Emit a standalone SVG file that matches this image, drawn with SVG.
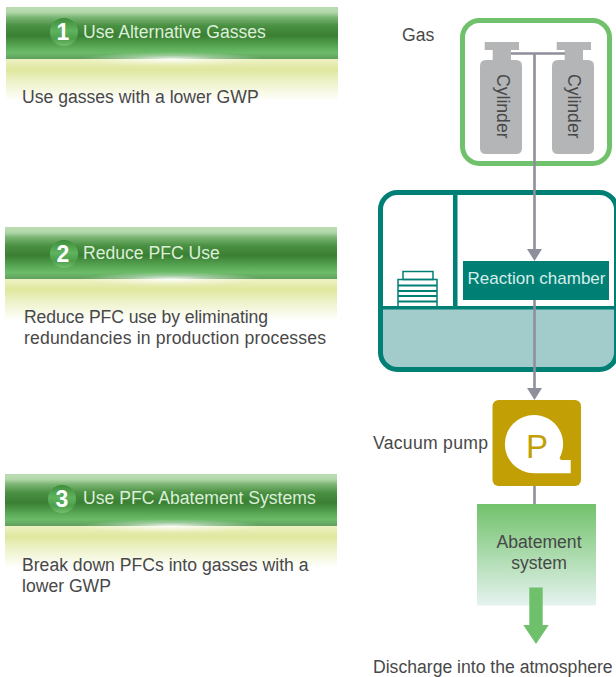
<svg xmlns="http://www.w3.org/2000/svg" xmlns:xlink="http://www.w3.org/1999/xlink" width="616" height="677" viewBox="0 0 616 677">
<style>
text{font-family:"Liberation Sans",Arial,sans-serif;fill:#484848}
.body{font-size:17.6px}
.head{font-size:17.6px;fill:#dcefd8}
.num{font-size:23px;font-weight:700;fill:#fff;text-anchor:middle}
.lab{font-size:17.6px}
.flow{stroke:#8f8f9c;stroke-width:2.6;fill:none}
.head-a{fill:#8f8f9c}
.cyl{fill:#b3b5b7}
.teal{fill:#007f75}
</style>
<defs>
<linearGradient id="bar" x1="0" y1="0" x2="0" y2="1">
<stop offset="0" stop-color="#bcdcb4"/><stop offset=".1" stop-color="#b3d8ab"/><stop offset=".2" stop-color="#7ab573"/><stop offset=".36" stop-color="#4a9042"/><stop offset=".55" stop-color="#3a7f33"/><stop offset=".78" stop-color="#5cac59"/><stop offset=".88" stop-color="#6bbb69"/><stop offset="1" stop-color="#619f5e"/>
</linearGradient>
<linearGradient id="yel" x1="0" y1="0" x2="0" y2="1">
<stop offset="0" stop-color="#eef2c4"/><stop offset=".25" stop-color="#dfe79e"/><stop offset=".5" stop-color="#ecf1c4"/><stop offset="1" stop-color="#fff"/>
</linearGradient>
<radialGradient id="glow"><stop offset="0" stop-color="#fff" stop-opacity=".9"/><stop offset=".5" stop-color="#fff" stop-opacity=".35"/><stop offset="1" stop-color="#fff" stop-opacity="0"/></radialGradient>
<linearGradient id="badge" x1="0" y1="0" x2="0" y2="1"><stop offset="0" stop-color="#3d8c3a"/><stop offset=".45" stop-color="#5fb35e"/><stop offset=".75" stop-color="#4c9f4a"/><stop offset="1" stop-color="#74bf6e"/></linearGradient>
<linearGradient id="abate" x1="0" y1="0" x2="0" y2="1"><stop offset="0" stop-color="#71c26b"/><stop offset="1" stop-color="#e5f3ef"/></linearGradient>
<g id="banner">
<rect x="0" y="0" width="332" height="52" fill="url(#bar)"/>
<rect x="0" y="52" width="332" height="42" fill="url(#yel)"/>
<ellipse cx="166" cy="52" rx="90" ry="7" fill="url(#glow)"/>
</g>
<path id="cylinder" class="cyl" d="M4.700 0H39V8H31V18H36Q42 18 42 24V106Q42 112 36 112H6Q0 112 0 106V24Q0 18 6 18H12.700V8H4.700Z"/>
</defs>

<g id="step1">
<use xlink:href="#banner" href="#banner" x="6" y="7"/>
<circle cx="64" cy="32" r="14" fill="url(#badge)"/>
<text class="num" x="63" y="40">1</text>
<text class="head" x="83" y="38">Use Alternative Gasses</text>
<text class="body" x="22" y="103">Use gasses with a lower GWP</text>
</g>
<g id="step2">
<use xlink:href="#banner" href="#banner" x="5" y="227"/>
<circle cx="64" cy="254" r="14" fill="url(#badge)"/>
<text class="num" x="63" y="262">2</text>
<text class="head" x="83" y="259">Reduce PFC Use</text>
<text class="body" x="24" y="323" textLength="244">Reduce PFC use by eliminating</text>
<text class="body" x="24" y="344" textLength="302">redundancies in production processes</text>
</g>
<g id="step3">
<use xlink:href="#banner" href="#banner" x="5" y="474"/>
<circle cx="62" cy="499" r="14" fill="url(#badge)"/>
<text class="num" x="62" y="507">3</text>
<text class="head" x="83" y="504">Use PFC Abatement Systems</text>
<text class="body" x="22" y="571">Break down PFCs into gasses with a</text>
<text class="body" x="22" y="592">lower GWP</text>
</g>

<g id="gas">
<text class="lab" x="402" y="41">Gas</text>
<rect x="462.500" y="20.500" width="147" height="143" rx="17" fill="#fff" stroke="#70c16b" stroke-width="5"/>
<use xlink:href="#cylinder" href="#cylinder" x="480" y="42"/>
<use xlink:href="#cylinder" href="#cylinder" x="552" y="42"/>
<text class="lab" transform="translate(497 74) rotate(90)">Cylinder</text>
<text class="lab" transform="translate(568 74) rotate(90)">Cylinder</text>
</g>

<g id="chamber">
<rect x="380.500" y="192.500" width="236" height="177" rx="17" fill="#fff"/>
<path d="M380.500 309H616.500V352.500Q616.500 369.500 599.500 369.500H397.500Q380.500 369.500 380.500 352.500Z" fill="#a2cbcb"/>
<rect x="380.500" y="192.500" width="236" height="177" rx="17" fill="none" stroke="#007f75" stroke-width="5"/>
<rect class="teal" x="453" y="193" width="4.500" height="115"/>
<rect class="teal" x="380" y="306" width="236" height="3.500"/>
<g id="wafers" fill="none" stroke="#007f75" stroke-width="1.500">
<rect x="403" y="271.500" width="30" height="8"/>
<path d="M398 307V279.500H437V307"/>
<path d="M398 285.500H437M398 291H437M398 296H437M398 301.500H437" stroke-width="2"/>
</g>
<rect class="teal" x="463" y="261" width="146" height="39"/>
<text x="467.500" y="284" style="font-size:17px;fill:#d8eeea">Reaction chamber</text>
</g>

<g id="connectors">
<path class="flow" d="M511 53.500H565M534.500 53.500V250"/>
<path class="head-a" d="M527 249H542L534.500 261Z"/>
<path class="flow" d="M534.500 300V389"/>
<path class="head-a" d="M527 388H542L534.500 400Z"/>
<path class="flow" d="M534.500 486V504"/>
</g>

<g id="pump">
<rect x="492.500" y="400" width="88.500" height="86" rx="6" fill="#c29f05"/>
<path d="M534 415A29 29 0 0 1 559.500 458L561 460H570.700V473.300H534A29 29 0 0 1 534 415Z" fill="#fff"/>
<text x="526" y="458" style="font-size:33px;fill:#c29f05">P</text>
<text class="lab" x="373" y="449" textLength="115">Vacuum pump</text>
</g>

<g id="abatement">
<rect x="477" y="504" width="119" height="101.500" fill="url(#abate)"/>
<text class="lab" x="539" y="548" text-anchor="middle">Abatement</text>
<text class="lab" x="539" y="569" text-anchor="middle">system</text>
<path d="M529.300 587.500H542.700V625H548.700L536 644L523.300 625H529.300Z" fill="#6fc06a"/>
<text class="lab" x="373" y="673">Discharge into the atmosphere</text>
</g>
</svg>
